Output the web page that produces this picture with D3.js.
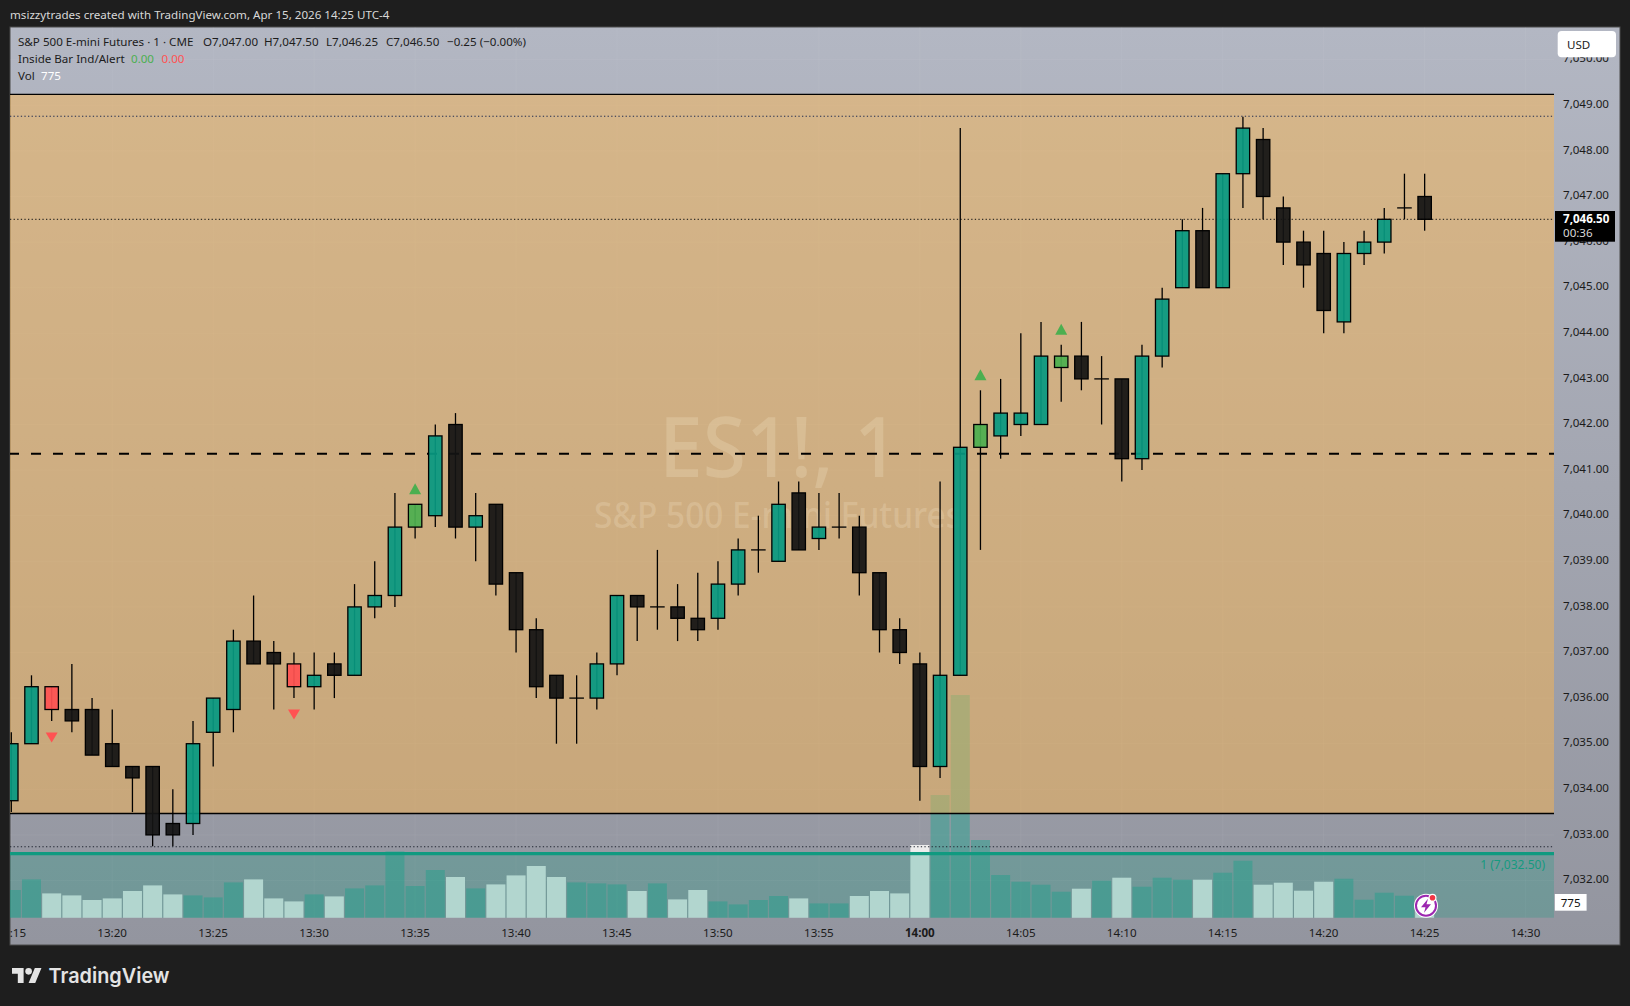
<!DOCTYPE html>
<html><head><meta charset="utf-8">
<style>
html,body{margin:0;padding:0;background:#1e1e1e;overflow:hidden}
svg{display:block}
text{font-family:"Noto Sans",sans-serif;font-size:11.6px}
</style>
<script src="https://cdn.jsdelivr.net/npm/d3@7/dist/d3.min.js"></script>
</head><body>
<svg id="c" width="1630" height="1006"></svg>
<script>
const barTimes=["13:15","13:16","13:17","13:18","13:19","13:20","13:21","13:22","13:23","13:24","13:25","13:26","13:27","13:28","13:29","13:30","13:31","13:32","13:33","13:34","13:35","13:36","13:37","13:38","13:39","13:40","13:41","13:42","13:43","13:44","13:45","13:46","13:47","13:48","13:49","13:50","13:51","13:52","13:53","13:54","13:55","13:56","13:57","13:58","13:59","14:00","14:01","14:02","14:03","14:04","14:05","14:06","14:07","14:08","14:09","14:10","14:11","14:12","14:13","14:14","14:15","14:16","14:17","14:18","14:19","14:20","14:21","14:22","14:23","14:24","14:25"];
const opens=[7033.75,7035,7036.25,7035.75,7035.75,7035,7034.5,7034.5,7033.25,7033.25,7035.25,7035.75,7037.25,7037,7036.75,7036.25,7036.75,7036.5,7038,7038.25,7039.75,7040,7042,7039.75,7040.25,7038.75,7037.5,7036.5,7036,7036,7036.75,7038.25,7038,7038,7037.75,7037.75,7038.5,7039.25,7039,7040.5,7039.5,7039.75,7039.75,7038.75,7037.5,7036.75,7034.5,7036.5,7041.5,7041.75,7042,7042,7043.25,7043.5,7043,7043,7041.25,7043.5,7045,7046.25,7045,7047.5,7048.25,7046.75,7046,7045.75,7044.25,7045.75,7046,7046.75,7047];
const highs=[7035.25,7036.5,7036.25,7036.75,7036,7035.75,7034.5,7034.5,7034,7035.5,7036,7037.5,7038.25,7037.25,7037,7037,7037,7038.5,7039,7040.5,7040.25,7042,7042.25,7040.5,7040.25,7038.75,7037.75,7036.5,7036.5,7037,7038.25,7038.25,7039.25,7038.5,7038.75,7039,7039.5,7040,7040.75,7040.75,7040.5,7040.5,7040,7038.75,7037.75,7037,7040.75,7048.5,7042.75,7043,7044,7044.25,7043.75,7044.25,7043.5,7043,7043.75,7045,7046.5,7046.75,7047.5,7048.75,7048.5,7047,7046.25,7046.25,7046,7046.25,7046.75,7047.5,7047.5];
const lows=[7033.5,7035,7035.5,7035.25,7034.75,7034.5,7033.5,7032.75,7032.75,7033,7034.5,7035.25,7036.75,7035.75,7036,7035.75,7036,7036.5,7037.75,7038,7039.5,7039.75,7039.5,7039,7038.25,7037,7036,7035,7035,7035.75,7036.5,7037.25,7037.5,7037.25,7037.25,7037.5,7038.25,7038.75,7039,7039.25,7039.25,7039.5,7038.25,7037,7036.75,7033.75,7034.25,7036.5,7039.25,7041.25,7041.75,7042,7042.5,7042.75,7042,7040.75,7041,7043.25,7045,7045,7045,7046.75,7046.5,7045.5,7045,7044,7044,7045.5,7045.75,7046.5,7046.25];
const closes=[7035,7036.25,7035.75,7035.5,7034.75,7034.5,7034.25,7033,7033,7035,7036,7037.25,7036.75,7036.75,7036.25,7036.5,7036.5,7038,7038.25,7039.75,7040.25,7041.75,7039.75,7040,7038.5,7037.5,7036.25,7036,7036,7036.75,7038.25,7038,7038,7037.75,7037.5,7038.5,7039.25,7039.25,7040.25,7039.25,7039.75,7039.75,7038.75,7037.5,7037,7034.5,7036.5,7041.5,7042,7042.25,7042.25,7043.5,7043.5,7043,7043,7041.25,7043.5,7044.75,7046.25,7045,7047.5,7048.5,7047,7046,7045.5,7044.5,7045.75,7046,7046.5,7046.75,7046.5];
const volumes=[1385,1915,1215,1115,885,965,1335,1615,1165,1115,1015,1765,1915,965,815,1165,1065,1465,1615,3315,1585,2385,2035,1465,1665,2115,2585,2035,1765,1715,1665,1335,1715,915,1385,815,665,885,1085,965,715,715,1085,1335,1215,3635,6135,11135,3885,2135,1800,1650,1300,1450,1850,2000,1550,2000,1900,1900,2250,2850,1650,1750,1350,1800,1950,900,1250,1100,775];
const insideDown=["13:17","13:29"];
const insideUp=["13:35","14:03","14:07"];
const priceTicks=[7032,7033,7034,7035,7036,7037,7038,7039,7040,7041,7042,7043,7044,7045,7046,7047,7048,7049,7050];
const timeTicks=["13:15","13:20","13:25","13:30","13:35","13:40","13:45","13:50","13:55","14:00","14:05","14:10","14:15","14:20","14:25","14:30"];
const levelBoxTop=7049.24, levelBoxBottom=7033.47, dottedTop=7048.76, dottedBottom=7032.74, dashedLevel=7041.36, lastPrice=7046.5;

const svg=d3.select("#c");
const mins=s=>{const[a,b]=s.split(":");return +a*60+ +b;};
const L=10,R=1554,PR=1620,T=27,B=945,VB=917.7;
const x=d3.scaleLinear().domain([mins("13:15"),mins("14:30")]).range([11.3,1525.6]);
const y=d3.scaleLinear().domain([7046.5,7034]).range([219.3,789.3]);
const v=d3.scaleLinear().domain([0,1000]).range([VB,VB-20]);

const defs=svg.append("defs");
const g1=defs.append("linearGradient").attr("id","bg").attr("x1",0).attr("x2",0).attr("y1",0).attr("y2",1);
g1.append("stop").attr("offset",0).attr("stop-color","#b3b7c3");
g1.append("stop").attr("offset",1).attr("stop-color","#93959f");
defs.append("clipPath").attr("id","pane").append("rect").attr("x",L).attr("y",T).attr("width",R-L).attr("height",B-T);
defs.append("clipPath").attr("id","axisX").append("rect").attr("x",L).attr("y",B-30).attr("width",PR-L).attr("height",30);

// header
svg.append("text").attr("x",10).attr("y",18.5).attr("fill","#d8d8d8").text("msizzytrades created with TradingView.com, Apr 15, 2026 14:25 UTC-4");

// pane
svg.append("rect").attr("x",L).attr("y",T).attr("width",PR-L).attr("height",B-T).attr("fill","url(#bg)").attr("stroke","#4b4b4b").attr("stroke-width",1);

const plot=svg.append("g").attr("clip-path","url(#pane)");
// grid
plot.append("g").selectAll("line").data(timeTicks).join("line")
 .attr("x1",d=>x(mins(d))).attr("x2",d=>x(mins(d))).attr("y1",T).attr("y2",VB).attr("stroke","rgba(255,255,255,.05)");
plot.append("g").selectAll("line").data(priceTicks).join("line")
 .attr("x1",L).attr("x2",R).attr("y1",d=>y(d)).attr("y2",d=>y(d)).attr("stroke","rgba(255,255,255,.05)");

// volume
const barW=19;
plot.append("g").selectAll("rect").data(barTimes).join("rect")
 .attr("x",d=>x(mins(d))-barW/2).attr("width",barW)
 .attr("y",(d,i)=>v(volumes[i])).attr("height",(d,i)=>VB-v(volumes[i]))
 .attr("fill",(d,i)=>closes[i]>=opens[i]?"rgba(8,165,140,.38)":"#ececec");
// volume-profile band
plot.append("rect").attr("x",L).attr("width",R-L).attr("y",853.3).attr("height",VB-853.3).attr("fill","rgba(22,155,128,.27)");
plot.append("line").attr("x1",L).attr("x2",R).attr("y1",853.6).attr("y2",853.6).attr("stroke","#109a80").attr("stroke-width",3.4);
// orange box
plot.append("rect").attr("x",L).attr("width",R-L).attr("y",y(levelBoxTop)).attr("height",y(levelBoxBottom)-y(levelBoxTop)).attr("fill","rgba(255,183,77,.47)");
plot.append("line").attr("x1",L).attr("x2",R).attr("y1",y(levelBoxTop)).attr("y2",y(levelBoxTop)).attr("stroke","#000").attr("stroke-width",1.4);
plot.append("line").attr("x1",L).attr("x2",R).attr("y1",y(levelBoxBottom)).attr("y2",y(levelBoxBottom)).attr("stroke","#000").attr("stroke-width",1.4);

// watermark
plot.append("text").attr("x",779).attr("y",477).attr("text-anchor","middle").attr("textLength",240).attr("lengthAdjust","spacingAndGlyphs").style("font-size","84px").style("font-weight","500").attr("fill","rgba(255,245,220,.2)").text("ES1!, 1");
plot.append("text").attr("x",778).attr("y",528).attr("text-anchor","middle").attr("textLength",368).attr("lengthAdjust","spacingAndGlyphs").style("font-size","37px").style("font-weight","500").attr("fill","rgba(255,245,220,.2)").text("S&P 500 E-mini Futures");

// level lines
plot.append("line").attr("x1",L).attr("x2",R).attr("y1",y(dottedTop)).attr("y2",y(dottedTop)).attr("stroke","#1f2a50").attr("stroke-dasharray","1.3 2.3");
plot.append("line").attr("x1",L).attr("x2",R).attr("y1",y(dottedBottom)).attr("y2",y(dottedBottom)).attr("stroke","#1f2430").attr("stroke-dasharray","1.3 2.3");
plot.append("line").attr("x1",9).attr("x2",R).attr("y1",y(dashedLevel)).attr("y2",y(dashedLevel)).attr("stroke","#000").attr("stroke-width",2).attr("stroke-dasharray","10 12");
plot.append("line").attr("x1",L).attr("x2",R).attr("y1",y(lastPrice)).attr("y2",y(lastPrice)).attr("stroke","#111").attr("stroke-dasharray","1.3 2.3");

// candles
const bodyW=13.4;
const cg=plot.append("g").selectAll("g").data(barTimes).join("g");
cg.append("line").attr("x1",d=>x(mins(d))).attr("x2",d=>x(mins(d)))
 .attr("y1",(d,i)=>y(highs[i])).attr("y2",(d,i)=>y(lows[i])).attr("stroke","#000").attr("stroke-width",1.3);
const fillOf=(d,i)=>insideDown.includes(d)?"#ff5252":insideUp.includes(d)?"#4caf50":closes[i]>=opens[i]?"#089981":"#131313";
cg.filter((d,i)=>opens[barTimes.indexOf(d)]!==closes[barTimes.indexOf(d)]).append("rect")
 .attr("x",d=>x(mins(d))-bodyW/2).attr("width",bodyW)
 .attr("y",d=>{const i=barTimes.indexOf(d);return y(Math.max(opens[i],closes[i]));})
 .attr("height",d=>{const i=barTimes.indexOf(d);return Math.abs(y(opens[i])-y(closes[i]));})
 .attr("fill",d=>fillOf(d,barTimes.indexOf(d))).attr("fill-opacity",.93).attr("stroke","#000").attr("stroke-width",1.3);
cg.filter(d=>{const i=barTimes.indexOf(d);return opens[i]===closes[i];}).append("line")
 .attr("x1",d=>x(mins(d))-bodyW/2-.6).attr("x2",d=>x(mins(d))+bodyW/2+.6)
 .attr("y1",d=>y(opens[barTimes.indexOf(d)])).attr("y2",d=>y(opens[barTimes.indexOf(d)])).attr("stroke","#000").attr("stroke-width",1.3);

// inside-bar markers
plot.append("g").selectAll("path").data(insideUp).join("path")
 .attr("d",d=>{const i=barTimes.indexOf(d),c=x(mins(d)),b=y(highs[i])-10;return `M${c-6},${b}L${c},${b-11}L${c+6},${b}Z`;}).attr("fill","#4caf50");
plot.append("g").selectAll("path").data(insideDown).join("path")
 .attr("d",d=>{const i=barTimes.indexOf(d),c=x(mins(d)),t=y(lows[i])+11.5;return `M${c-6},${t}L${c+6},${t}L${c},${t+10}Z`;}).attr("fill","#ff5252");

// VP label
plot.append("text").attr("x",1545).attr("y",864.5).attr("dominant-baseline","central").attr("text-anchor","end").attr("fill","#169a80").style("font-size","12px").text("1 (7,032.50)");

// price axis
const ay=svg.append("g").attr("transform","translate(1563,0)")
 .call(d3.axisRight(y).tickValues(priceTicks).tickSize(0).tickPadding(0).tickFormat(d3.format(",.2f")));
ay.select(".domain").remove();
ay.selectAll("text").attr("fill","#1b1b1b").attr("dy",null).attr("y",0).attr("dominant-baseline","central").attr("transform","translate(0,-2.4)").attr("text-anchor","start").style("font-size","11.6px").style("font-family",'"Noto Sans",sans-serif');

// time axis
const ax=svg.append("g").attr("clip-path","url(#axisX)").append("g").attr("transform","translate(-0.6,932)")
 .call(d3.axisBottom(d3.scaleLinear().domain(x.domain()).range(x.range())).tickValues(timeTicks.map(mins)).tickSize(0).tickPadding(0).tickFormat(m=>timeTicks.find(t=>mins(t)===m)));
ax.select(".domain").remove();
ax.selectAll("text").attr("dy",null).attr("y",0).attr("dominant-baseline","central").attr("fill","#1b1b1b")
 .style("font-size","11.6px").style("font-family",'"Noto Sans",sans-serif').style("font-weight",m=>m===mins("14:00")?"700":"400");

// legend
const lg=[[18,41,"S&P 500 E-mini Futures · 1 · CME","#1c1c1c"],[203,41,"O7,047.00","#1c1c1c"],[264,41,"H7,047.50","#1c1c1c"],[326,41,"L7,046.25","#1c1c1c"],[386,41,"C7,046.50","#1c1c1c"],[447,41,"−0.25 (−0.00%)","#1c1c1c"],
[18,58,"Inside Bar Ind/Alert","#1c1c1c"],[131,58,"0.00","#4caf50"],[161.5,58,"0.00","#ff5252"],[18,75,"Vol","#1c1c1c"],[41,75,"775","#fff"]];
svg.append("g").selectAll("text").data(lg).join("text").attr("x",d=>d[0]).attr("y",d=>d[1]).attr("dominant-baseline","central").attr("fill",d=>d[3]).text(d=>d[2]);

// USD button
svg.append("rect").attr("x",1557.7).attr("y",31).attr("width",58.3).attr("height",26.3).attr("rx",4).attr("fill","#fff");
svg.append("text").attr("x",1567).attr("y",44).attr("dominant-baseline","central").attr("fill","#1b1b1b").text("USD");

// last-price tag
svg.append("rect").attr("x",1555).attr("y",211).attr("width",60).attr("height",30.7).attr("fill","#000");
svg.append("text").attr("x",1563).attr("y",218.3).attr("dominant-baseline","central").attr("fill","#fff").style("font-weight","700").text("7,046.50");
svg.append("text").attr("x",1563).attr("y",232.2).attr("dominant-baseline","central").attr("fill","#d8d8d8").text("00:36");

// volume tag
svg.append("rect").attr("x",1554.8).attr("y",894).attr("width",31.8).attr("height",16.7).attr("fill","#fff");
svg.append("text").attr("x",1570.7).attr("y",902).attr("text-anchor","middle").attr("dominant-baseline","central").attr("fill","#111").text(d3.format(",")(volumes[volumes.length-1]));

// alert icon
const ic=svg.append("g").attr("transform","translate(1426,905.7)");
ic.append("circle").attr("r",12).attr("fill","#fff");
ic.append("circle").attr("r",10).attr("fill","#fff").attr("stroke","#9c27b0").attr("stroke-width",2);
ic.append("path").attr("d","M2,-7L-5,1.5H-0.5L-2,7L5,-1.5H0.5Z").attr("fill","#9c27b0");
ic.append("circle").attr("cx",6.5).attr("cy",-8).attr("r",4).attr("fill","#fff");
ic.append("circle").attr("cx",6.5).attr("cy",-8).attr("r",2.8).attr("fill","#f23645");

// logo
const lo=svg.append("g").attr("transform","translate(12,964.7) scale(.83)").attr("fill","#e4e4e4");
lo.append("path").attr("d","M14 22H7V11H0V4h14v18zM28 22h-8l7.5-18h8L28 22z");
lo.append("circle").attr("cx",20).attr("cy",8).attr("r",4);
svg.append("text").attr("x",48.5).attr("y",983).attr("fill","#e4e4e4").attr("textLength",121).attr("lengthAdjust","spacingAndGlyphs").style("font-size","20.5px").style("font-weight","600").style("font-family","Inter,'Noto Sans',sans-serif").text("TradingView");
</script>
</body></html>
